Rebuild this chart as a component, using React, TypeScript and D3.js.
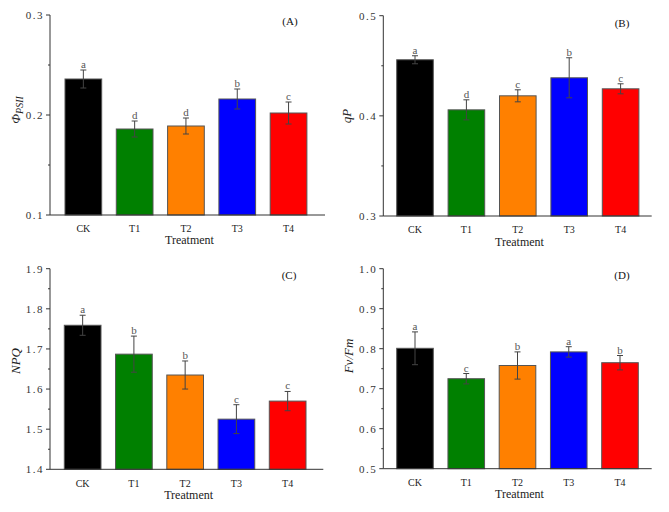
import React from "react";
import * as d3 from "d3";

const categories = ["CK", "T1", "T2", "T3", "T4"];
const barColors = ["#000000", "#008000", "#ff8000", "#0000ff", "#ff0000"];

const phiValues = [0.236, 0.186, 0.189, 0.216, 0.202];
const phiErrors = [0.009, 0.008, 0.008, 0.010, 0.011];
const phiLetters = ["a", "d", "d", "b", "c"];

const qpValues = [0.456, 0.406, 0.42, 0.438, 0.427];
const qpErrors = [0.004, 0.010, 0.006, 0.020, 0.005];
const qpLetters = ["a", "d", "c", "b", "c"];

const npqValues = [1.759, 1.687, 1.635, 1.525, 1.57];
const npqErrors = [0.025, 0.045, 0.035, 0.036, 0.024];
const npqLetters = ["a", "b", "b", "c", "c"];

const fvfmValues = [0.801, 0.725, 0.758, 0.792, 0.765];
const fvfmErrors = [0.041, 0.013, 0.034, 0.013, 0.018];
const fvfmLetters = ["a", "c", "b", "a", "b"];

const FONT = "'Liberation Serif', 'Times New Roman', serif";

type PanelProps = {
  values: number[];
  errors: number[];
  letters: string[];
  domain: [number, number];
  majorStep: number;
  x0: number;
  x1: number;
  yTop: number;
  yBot: number;
  barStart: number;
  step: number;
  barW: number;
  tag: string;
  tagX: number;
  tagY: number;
  catY: number;
  titleY: number;
  yLabel: React.ReactNode;
  yLabelX: number;
  yLabelY: number;
};

function Panel(p: PanelProps) {
  const y = d3.scaleLinear().domain(p.domain).range([p.yBot, p.yTop]);
  const x = d3
    .scaleBand<string>()
    .domain(categories)
    .range([p.barStart, p.barStart + 4 * p.step + p.barW])
    .paddingInner(1 - p.barW / p.step)
    .paddingOuter(0);
  const nMajor = Math.round((p.domain[1] - p.domain[0]) / p.majorStep);
  const majors = d3.range(nMajor + 1).map((i) => p.domain[0] + i * p.majorStep);
  const minors = d3.range(nMajor).map((i) => p.domain[0] + (i + 0.5) * p.majorStep);
  const fmt = d3.format(".1f");
  const axisColor = "#333";
  return (
    <g>
      {categories.map((c, i) => {
        const bx = x(c)!;
        const bw = x.bandwidth();
        const cx = bx + bw / 2;
        const top = y(p.values[i]);
        const eTop = y(p.values[i] + p.errors[i]);
        const eBot = y(p.values[i] - p.errors[i]);
        return (
          <g key={c}>
            <rect x={bx} y={top} width={bw} height={p.yBot - top} fill={barColors[i]} stroke="#555" strokeWidth={1} />
            <line x1={cx} x2={cx} y1={eTop} y2={eBot} stroke="#444" strokeWidth={1} />
            <line x1={cx - 3} x2={cx + 3} y1={eTop} y2={eTop} stroke="#444" strokeWidth={1} />
            <line x1={cx - 3} x2={cx + 3} y1={eBot} y2={eBot} stroke="#444" strokeWidth={1} />
            <text x={cx} y={eTop - 2} textAnchor="middle" fontFamily={FONT} fontSize={11} fill="#555">
              {p.letters[i]}
            </text>
            <text x={cx} y={p.catY} textAnchor="middle" fontFamily={FONT} fontSize={10} fill="#222">
              {c}
            </text>
          </g>
        );
      })}
      <line x1={p.x0} x2={p.x0} y1={p.yTop} y2={p.yBot} stroke={axisColor} strokeWidth={1} />
      <line x1={p.x0} x2={p.x1} y1={p.yBot} y2={p.yBot} stroke={axisColor} strokeWidth={1} />
      {majors.map((v) => (
        <g key={"M" + v}>
          <line x1={p.x0 - 4} x2={p.x0} y1={y(v)} y2={y(v)} stroke={axisColor} strokeWidth={1} />
          <text x={p.x0 - 6} y={y(v)} dy="0.35em" textAnchor="end" fontFamily={FONT} fontSize={11} letterSpacing={1.5} fill="#333">
            {fmt(v)}
          </text>
        </g>
      ))}
      {minors.map((v) => (
        <line key={"m" + v} x1={p.x0 - 2} x2={p.x0} y1={y(v)} y2={y(v)} stroke={axisColor} strokeWidth={1} />
      ))}
      <text x={(p.x0 + p.x1) / 2 + 2} y={p.titleY} textAnchor="middle" fontFamily={FONT} fontSize={12} fill="#222">
        Treatment
      </text>
      <text x={p.tagX} y={p.tagY} textAnchor="middle" fontFamily={FONT} fontSize={11} fill="#111">
        {p.tag}
      </text>
      <text
        transform={`translate(${p.yLabelX},${p.yLabelY}) rotate(-90)`}
        textAnchor="middle"
        dy="0.35em"
        fontFamily={FONT}
        fontSize={13}
        fontStyle="italic"
        fill="#222"
      >
        {p.yLabel}
      </text>
    </g>
  );
}

export default function App() {
  return (
    <svg
      width={669}
      height={512}
      style={{ position: "absolute", left: 0, top: 0, background: "#fff" }}
    >
      <Panel
        values={phiValues}
        errors={phiErrors}
        letters={phiLetters}
        domain={[0.1, 0.3]}
        majorStep={0.1}
        x0={50}
        x1={325}
        yTop={15}
        yBot={215}
        barStart={65}
        step={51.3}
        barW={36.7}
        tag="(A)"
        tagX={290}
        tagY={25}
        catY={232}
        titleY={244}
        yLabel={
          <>
            <tspan>Φ</tspan>
            <tspan fontSize={10} dy="3">PSII</tspan>
          </>
        }
        yLabelX={15}
        yLabelY={110}
      />
      <Panel
        values={qpValues}
        errors={qpErrors}
        letters={qpLetters}
        domain={[0.3, 0.5]}
        majorStep={0.1}
        x0={383.3}
        x1={651.7}
        yTop={15.7}
        yBot={216}
        barStart={396.7}
        step={51.4}
        barW={36.6}
        tag="(B)"
        tagX={622}
        tagY={27}
        catY={233}
        titleY={246}
        yLabel={<tspan>qP</tspan>}
        yLabelX={346}
        yLabelY={116}
      />
      <Panel
        values={npqValues}
        errors={npqErrors}
        letters={npqLetters}
        domain={[1.4, 1.9]}
        majorStep={0.1}
        x0={50}
        x1={323.3}
        yTop={268.7}
        yBot={469.3}
        barStart={64.3}
        step={51.25}
        barW={36.7}
        tag="(C)"
        tagX={289}
        tagY={279}
        catY={486.5}
        titleY={499}
        yLabel={<tspan>NPQ</tspan>}
        yLabelX={15}
        yLabelY={361}
      />
      <Panel
        values={fvfmValues}
        errors={fvfmErrors}
        letters={fvfmLetters}
        domain={[0.5, 1.0]}
        majorStep={0.1}
        x0={383.3}
        x1={651.7}
        yTop={268.7}
        yBot={468.7}
        barStart={396.7}
        step={51.25}
        barW={36.6}
        tag="(D)"
        tagX={622}
        tagY={279}
        catY={486}
        titleY={498}
        yLabel={<tspan>Fv/Fm</tspan>}
        yLabelX={348}
        yLabelY={356}
      />
    </svg>
  );
}
